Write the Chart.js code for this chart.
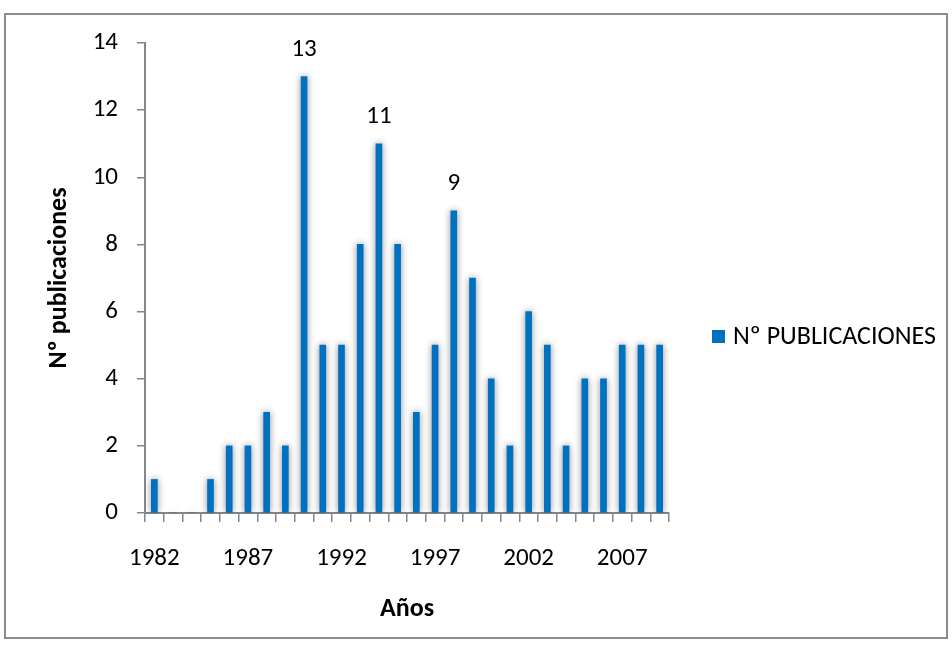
<!DOCTYPE html>
<html>
<head>
<meta charset="utf-8">
<script src="https://cdn.jsdelivr.net/npm/chart.js@4.4.0/dist/chart.umd.min.js"></script>
<style>
    html, body { margin: 0; padding: 0; background: #ffffff; }
    #marco {
        position: absolute;
        left: 4px; top: 13px;
        width: 944px; height: 626px;
        border: 2px solid #8c8c8c;
        box-sizing: border-box;
        background: #ffffff;
    }
    #grafico { display: block; }
</style>
</head>
<body>
<div id="marco"><canvas id="grafico" width="940" height="622"></canvas></div>
<script>
// Datos: publicaciones por año
var anios = ['1982', '1983', '1984', '1985', '1986', '1987', '1988', '1989', '1990', '1991',
             '1992', '1993', '1994', '1995', '1996', '1997', '1998', '1999', '2000', '2001',
             '2002', '2003', '2004', '2005', '2006', '2007', '2008', '2009'];
var publicaciones = [1, 0, 0, 1, 2, 2, 3, 2, 13, 5,
                     5, 8, 11, 8, 3, 5, 9, 7, 4, 2,
                     6, 5, 2, 4, 4, 5, 5, 5];
var aniosEtiquetados = ['1990', '1994', '1998'];
var ticksY = [0, 2, 4, 6, 8, 10, 12, 14];

var FUENTE = "Carlito, Calibri, Lato, sans-serif";
var TAM = 25;
var TAM_TITULO = 26;
var AZUL = '#0070c0';
var GRIS = '#868686';

// sombra gris alrededor de las barras
var sombraBarras = {
    id: 'sombraBarras',
    beforeDatasetsDraw: function(chart) {
        var ctx = chart.ctx;
        ctx.save();
        ctx.shadowColor = 'rgba(0, 0, 0, 0.45)';
        ctx.shadowBlur = 7;
        ctx.shadowOffsetX = 0;
        ctx.shadowOffsetY = 0;
    },
    afterDatasetsDraw: function(chart) {
        chart.ctx.restore();
    }
};

// valores encima de los picos
var etiquetasPicos = {
    id: 'etiquetasPicos',
    afterDatasetsDraw: function(chart) {
        var ctx = chart.ctx;
        var meta = chart.getDatasetMeta(0);
        ctx.save();
        ctx.font = TAM + 'px ' + FUENTE;
        ctx.fillStyle = '#000000';
        ctx.textAlign = 'center';
        ctx.textBaseline = 'middle';
        anios.forEach(function(a, i) {
            if (aniosEtiquetados.indexOf(a) === -1) return;
            var barra = meta.data[i];
            ctx.fillText(String(publicaciones[i]), barra.x, barra.y - 27);
        });
        ctx.restore();
    }
};

// leyenda a la derecha
var leyenda = {
    id: 'leyenda',
    afterDraw: function(chart) {
        var ctx = chart.ctx;
        var area = chart.chartArea;
        var x = area.right + 43;
        var y = (area.top + area.bottom) / 2 + 58;
        ctx.save();
        ctx.fillStyle = AZUL;
        ctx.fillRect(x, y - 6, 13, 13);
        ctx.font = TAM_TITULO + 'px ' + FUENTE;
        ctx.fillStyle = '#000000';
        ctx.textAlign = 'left';
        ctx.textBaseline = 'middle';
        ctx.fillText(chart.data.datasets[0].label, x + 21, y + 1);
        ctx.restore();
    }
};

new Chart(document.getElementById('grafico').getContext('2d'), {
    type: 'bar',
    data: {
        labels: anios,
        datasets: [{
            label: 'Nº PUBLICACIONES',
            data: publicaciones,
            backgroundColor: AZUL,
            borderWidth: 0,
            barThickness: 6
        }]
    },
    options: {
        responsive: false,
        animation: false,
        layout: {
            padding: { left: 0, top: 28, right: 277, bottom: 0 }
        },
        plugins: {
            legend: { display: false },
            tooltip: { enabled: false }
        },
        scales: {
            x: {
                afterFit: function(axis) { axis.height = 124; },
                grid: {
                    display: true,
                    offset: true,
                    drawOnChartArea: false,
                    tickLength: 9,
                    color: GRIS,
                    lineWidth: 1.5
                },
                border: { color: GRIS, width: 2 },
                ticks: {
                    autoSkip: false,
                    maxRotation: 0,
                    color: '#000000',
                    padding: 22,
                    font: { family: FUENTE, size: TAM },
                    callback: function(value, index) {
                        return index % 5 === 0 ? anios[index] : '';
                    }
                },
                title: {
                    display: true,
                    text: 'Años',
                    color: '#000000',
                    padding: { top: 0, bottom: 12 },
                    font: { family: FUENTE, size: TAM_TITULO, weight: 'bold' }
                }
            },
            y: {
                min: ticksY[0],
                max: ticksY[ticksY.length - 1],
                afterFit: function(axis) {
                    axis.width = 139;
                    axis.paddingTop = 0;
                },
                afterBuildTicks: function(axis) {
                    axis.ticks = ticksY.map(function(v) { return { value: v }; });
                },
                grid: {
                    display: true,
                    drawOnChartArea: false,
                    tickLength: 8,
                    color: GRIS,
                    lineWidth: 1.5
                },
                border: { color: GRIS, width: 2 },
                ticks: {
                    color: '#000000',
                    padding: 19,
                    font: { family: FUENTE, size: TAM }
                },
                title: {
                    display: true,
                    text: 'Nº publicaciones',
                    color: '#000000',
                    padding: { top: 38, bottom: 0 },
                    font: { family: FUENTE, size: TAM_TITULO, weight: 'bold' }
                }
            }
        }
    },
    plugins: [sombraBarras, etiquetasPicos, leyenda]
});
</script>
</body>
</html>
